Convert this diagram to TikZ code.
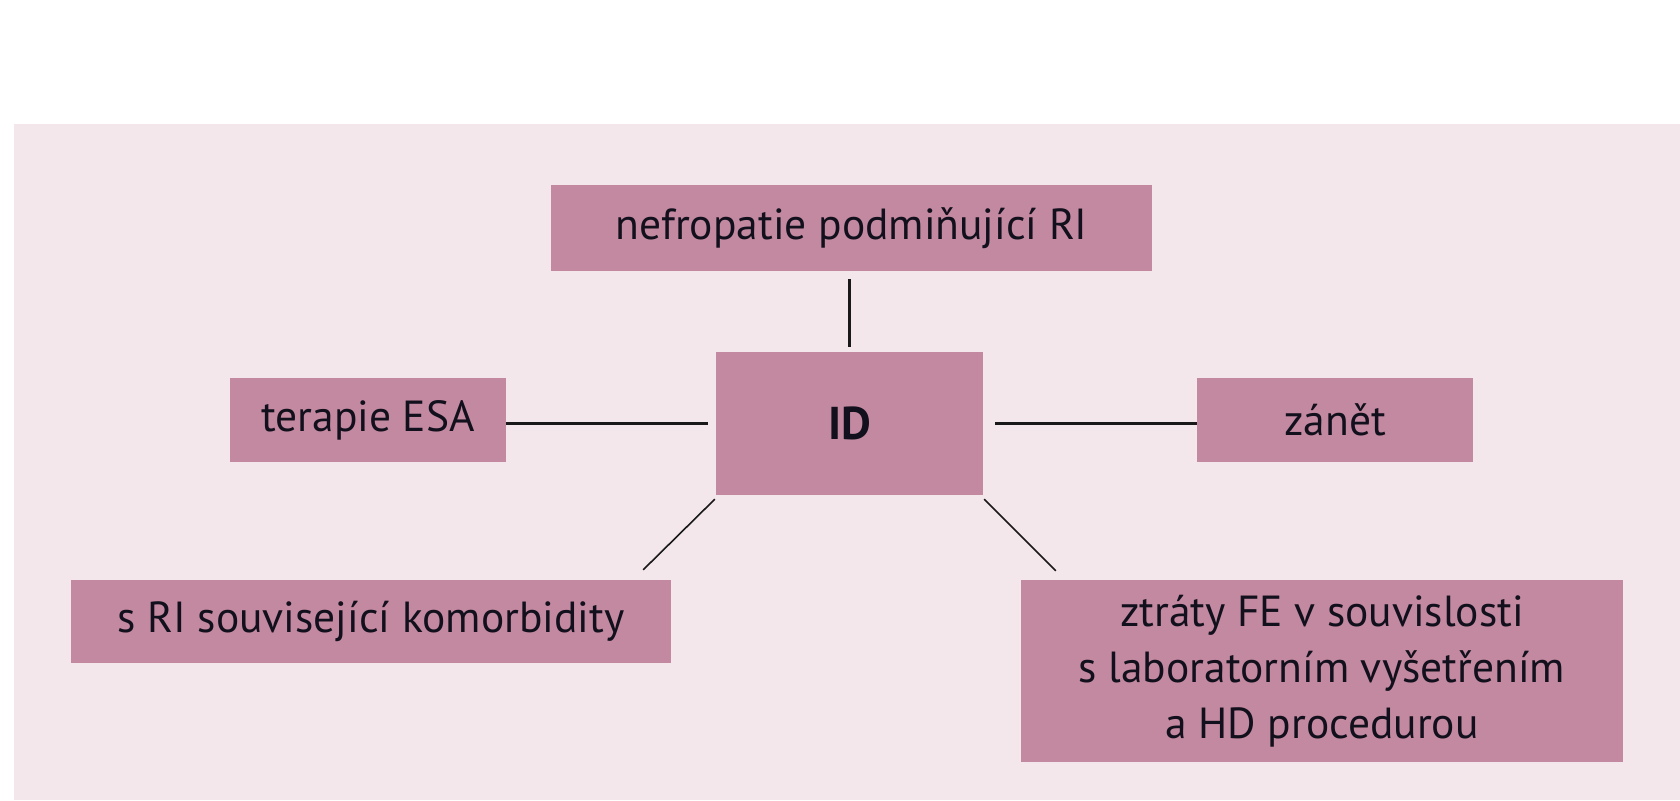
\documentclass[tikz,border=0pt]{standalone}
\usepackage{fontspec}
\setmainfont{PT Sans}
\definecolor{bgpink}{RGB}{243,231,236}
\definecolor{boxpink}{RGB}{195,137,160}
\definecolor{txt}{RGB}{18,16,28}
\begin{document}
\begin{tikzpicture}[x=1pt,y=-1pt,
  pbox/.style={rectangle, fill=boxpink, draw=none, text=txt, inner sep=0pt,
    font=\fontsize{43.5}{56}\selectfont, align=center},
  link/.style={draw=black!90, line width=2.2pt}]
\useasboundingbox (0,0) rectangle (1680,800);
\fill[white] (0,0) rectangle (1680,800);
\fill[bgpink] (14,124) rectangle (1680,800);
\node[pbox, minimum width=601pt, minimum height=86pt] (top) at (851.5,228) {nefropatie podmiňující RI};
\node[pbox, minimum width=267pt, minimum height=143pt, font=\fontsize{46}{56}\selectfont\bfseries] (id) at (849.5,423.5) {ID};
\node[pbox, minimum width=276pt, minimum height=84pt] (esa) at (368,420) {terapie ESA};
\node[pbox, minimum width=276pt, minimum height=84pt] (zanet) at (1335,420) {zánět};
\node[pbox, minimum width=600pt, minimum height=83pt] (sri) at (371,621.5) {s RI související komorbidity};
\node[pbox, minimum width=602pt, minimum height=182pt] (fe) at (1322,671) {ztráty FE v souvislosti\\ s laboratorním vyšetřením\\ a HD procedurou};
\draw[link] ([yshift=5pt]id.north) -- ([yshift=-8pt]id.north |- top.south);
\draw[link] ([xshift=-8pt]id.west) -- (esa.east |- id.west);
\draw[link] ([xshift=12pt]id.east) -- (zanet.west |- id.east);
\draw[link, line width=1.6pt] ([shift={(-1pt,-4pt)}]id.south west) -- ([shift={(-28pt,10pt)}]sri.north east);
\draw[link, line width=1.6pt] ([shift={(1pt,-4pt)}]id.south east) -- ([shift={(35pt,9pt)}]fe.north west);
\end{tikzpicture}
\end{document}
